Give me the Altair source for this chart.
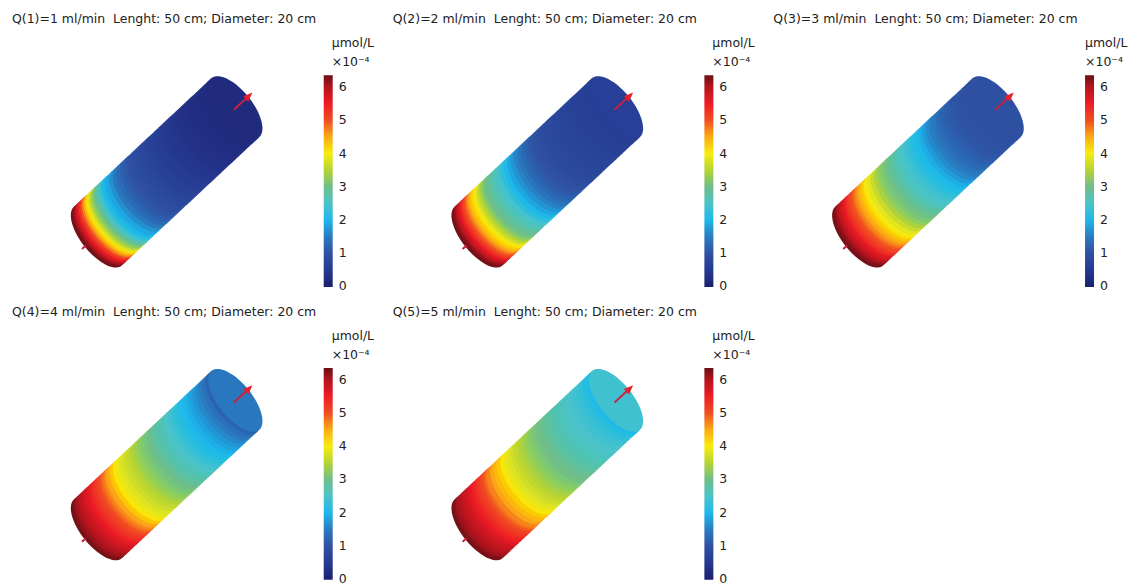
import math
import altair as alt
import pandas as pd

FLOWS = [1, 2, 3, 4, 5]
TICKS = [0, 1, 2, 3, 4, 5, 6]
UNIT = "µmol/L"
EXPONENT = "×10⁻⁴"

# axial stations (fraction of the cylinder length) where the colour was read
STATIONS = [0, .0125, .025, .0375, .05, .0625, .075, .0875, .1, .1125, .125, .1375, .15,
            .1625, .175, .1875, .2, .2125, .225, .2375, .25, .275, .3, .325, .35, .375,
            .4, .425, .45, .475, .5, .525, .55, .575, .6, .625, .65, .675, .7, .725,
            .75, .775, .8, .825, .85, .875, .9, .925, .95, .975, 1.0]

C1 = [6.3, 6.1, 5.85, 5.6, 5.35, 5.05, 4.75, 4.45, 4.15, 3.9, 3.65, 3.4, 3.2, 3.0, 2.8, 2.6, 2.4,
      2.2, 2.05, 1.95, 1.85, 1.65, 1.45, 1.3, 1.18, 1.08, 1.0, .93, .87, .82, .77, .72, .67, .62,
      .58, .54, .5, .46, .43, .4, .37, .34, .32, .3, .28, .26, .25, .24, .23, .22]
C2 = [6.3, 6.15, 5.95, 5.75, 5.55, 5.35, 5.15, 4.95, 4.75, 4.55, 4.35, 4.2, 4.05, 3.9, 3.7, 3.55,
      3.4, 3.25, 3.1, 3.0, 2.9, 2.75, 2.6, 2.45, 2.25, 2.05, 1.85, 1.7, 1.55, 1.4, 1.28, 1.17,
      1.08, 1.0, .95, .9, .86, .83, .8, .77, .75, .72, .7, .68, .66, .64, .63, .62, .61, .6]
C3 = [6.3, 6.2, 6.05, 5.9, 5.8, 5.65, 5.55, 5.4, 5.3, 5.15, 5.05, 4.95, 4.8, 4.7, 4.55, 4.45, 4.3,
      4.2, 4.05, 3.95, 3.85, 3.65, 3.45, 3.3, 3.15, 3.05, 2.9, 2.8, 2.65, 2.55, 2.45, 2.35, 2.25,
      2.15, 2.05, 1.9, 1.75, 1.62, 1.5, 1.4, 1.3, 1.22, 1.15, 1.1, 1.05, 1.02, 1.0, .98, .96, .95]
C4 = [6.3, 6.2, 6.1, 6.05, 5.95, 5.9, 5.8, 5.75, 5.65, 5.6, 5.5, 5.45, 5.35, 5.3, 5.2, 5.1, 5.0,
      4.9, 4.8, 4.7, 4.55, 4.3, 4.05, 3.9, 3.8, 3.7, 3.6, 3.5, 3.4, 3.3, 3.2, 3.1, 3.0, 2.9, 2.8,
      2.72, 2.62, 2.52, 2.42, 2.32, 2.22, 2.12, 2.03, 1.93, 1.83, 1.72, 1.6, 1.48, 1.35, 1.2]
C5 = [6.3, 6.2, 6.1, 6.05, 6.0, 5.95, 5.85, 5.8, 5.75, 5.65, 5.6, 5.5, 5.45, 5.4, 5.3, 5.25, 5.15,
      5.05, 4.95, 4.85, 4.75, 4.55, 4.4, 4.25, 4.05, 3.9, 3.8, 3.7, 3.6, 3.5, 3.42, 3.33, 3.25,
      3.15, 3.05, 3.0, 2.92, 2.85, 2.78, 2.72, 2.66, 2.6, 2.55, 2.5, 2.45, 2.4, 2.35, 2.28, 2.18, 2.08]
SERIES = [C1, C2, C3, C4, C5]
OUTLET_FACE = [0.22, 0.6, 0.95, 1.45, 2.4]

SCALE_DOMAIN = [-0.02, .5, 1, 1.5, 2, 2.5, 3, 3.5, 4, 4.6, 5, 5.5, 6, 6.36]
SCALE_RANGE = ["#1a1f6e", "#263a92", "#2f52a3", "#2a7cc0", "#1fb8ec", "#4cc3c9", "#6fbe8a", "#b5d334",
               "#f8ec0f", "#f9a01b", "#f04e23", "#ee1c25", "#b5141e", "#6a1015"]

# cylinder projection, in page pixels
INLET = (98.0, 236.0)
OUTLET = (235.5, 107.5)
AXIS = (0.737, -0.676)
ACROSS = (0.635, 0.772)
RADIUS = 38.0
SAG = 17.0
STEPS = 28
SHAFT = [[234, 109.7], [247, 97.5]]
HEAD = [[252.7, 92.3], [243.5, 96.0], [248.5, 101.5]]
STUB = [[82, 249], [86, 245.5]]


def rim(s, sign):
    pts = []
    for k in range(STEPS + 1):
        a = math.pi * k / STEPS
        w, b = -math.cos(a), math.sin(a)
        pts.append([
            INLET[0] + s * (OUTLET[0] - INLET[0]) + RADIUS * w * ACROSS[0] + sign * SAG * b * AXIS[0],
            INLET[1] + s * (OUTLET[1] - INLET[1]) + RADIUS * w * ACROSS[1] + sign * SAG * b * AXIS[1],
        ])
    return pts


def feature(ring, c):
    return {"type": "Feature", "properties": {"c": c},
            "geometry": {"type": "Polygon", "coordinates": [ring + [ring[0]]]}}


def shell(values, face):
    # drawn outlet first, each strip slightly under the previous one to avoid seams
    feats = [feature(rim(1.0, 1) + rim(0.98, -1)[::-1], face)]
    for i in range(len(values) - 1, -1, -1):
        top = min(1.0, STATIONS[i + 1] + 0.006)
        feats.append(feature(rim(STATIONS[i], -1) + rim(top, -1)[::-1], values[i]))
    return feats


def panel(q, values, face, width, height, unit_x=324):
    scale = alt.Scale(domain=SCALE_DOMAIN, range=SCALE_RANGE, clamp=True)
    proj = dict(type="identity", scale=1, translate=[-8, -8])
    surface = alt.Chart(alt.Data(values=shell(values, face))).mark_geoshape(stroke=None).encode(
        color=alt.Color(
            "properties.c:Q", scale=scale,
            legend=alt.Legend(
                orient="none", legendX=316, legendY=67, title=None, values=TICKS,
                gradientLength=212, gradientThickness=9, gradientStrokeWidth=0,
                labelFontSize=12.5, labelFont="DejaVu Sans", labelColor="#222222",
                labelOffset=6, labelOverlap=False, format="d", tickCount=7,
            ),
        )
    ).project(**proj)
    shaft = alt.Chart(alt.Data(values=[
        {"type": "Feature", "properties": {}, "geometry": {"type": "LineString", "coordinates": SHAFT}},
        {"type": "Feature", "properties": {}, "geometry": {"type": "LineString", "coordinates": STUB}},
    ])).mark_geoshape(filled=False, stroke="#c8203f", strokeWidth=2).project(**proj)
    head = alt.Chart(alt.Data(values=[feature(HEAD, 0)])).mark_geoshape(
        fill="#e8202c", stroke=None).project(**proj)
    label = f"Q({q})={q} ml/min\u00a0\u00a0Lenght: 50 cm; Diameter: 20 cm"
    texts = pd.DataFrame({"t": [label, UNIT, EXPONENT], "x": [4, unit_x, unit_x], "y": [11, 35, 54]})
    text = alt.Chart(texts).mark_text(
        font="DejaVu Sans", fontSize=12.5, align="left", baseline="middle", color="#222222"
    ).encode(
        x=alt.X("x:Q", scale=None),
        y=alt.Y("y:Q", scale=None),
        text="t:N",
    )
    return alt.layer(surface, shaft, head, text).properties(width=width, height=height)


panels = [
    panel(FLOWS[0], SERIES[0], OUTLET_FACE[0], 381, 293),
    panel(FLOWS[1], SERIES[1], OUTLET_FACE[1], 381, 293),
    panel(FLOWS[2], SERIES[2], OUTLET_FACE[2], 316, 293, unit_x=316),
    panel(FLOWS[3], SERIES[3], OUTLET_FACE[3], 381, 276),
    panel(FLOWS[4], SERIES[4], OUTLET_FACE[4], 381, 276),
]

chart = alt.concat(*panels, columns=3, spacing=0, bounds="flush").resolve_scale(
    color="independent"
).properties(padding=0).configure_view(stroke=None)

chart.save("out.html", embed_options={"renderer": "svg", "actions": False})
